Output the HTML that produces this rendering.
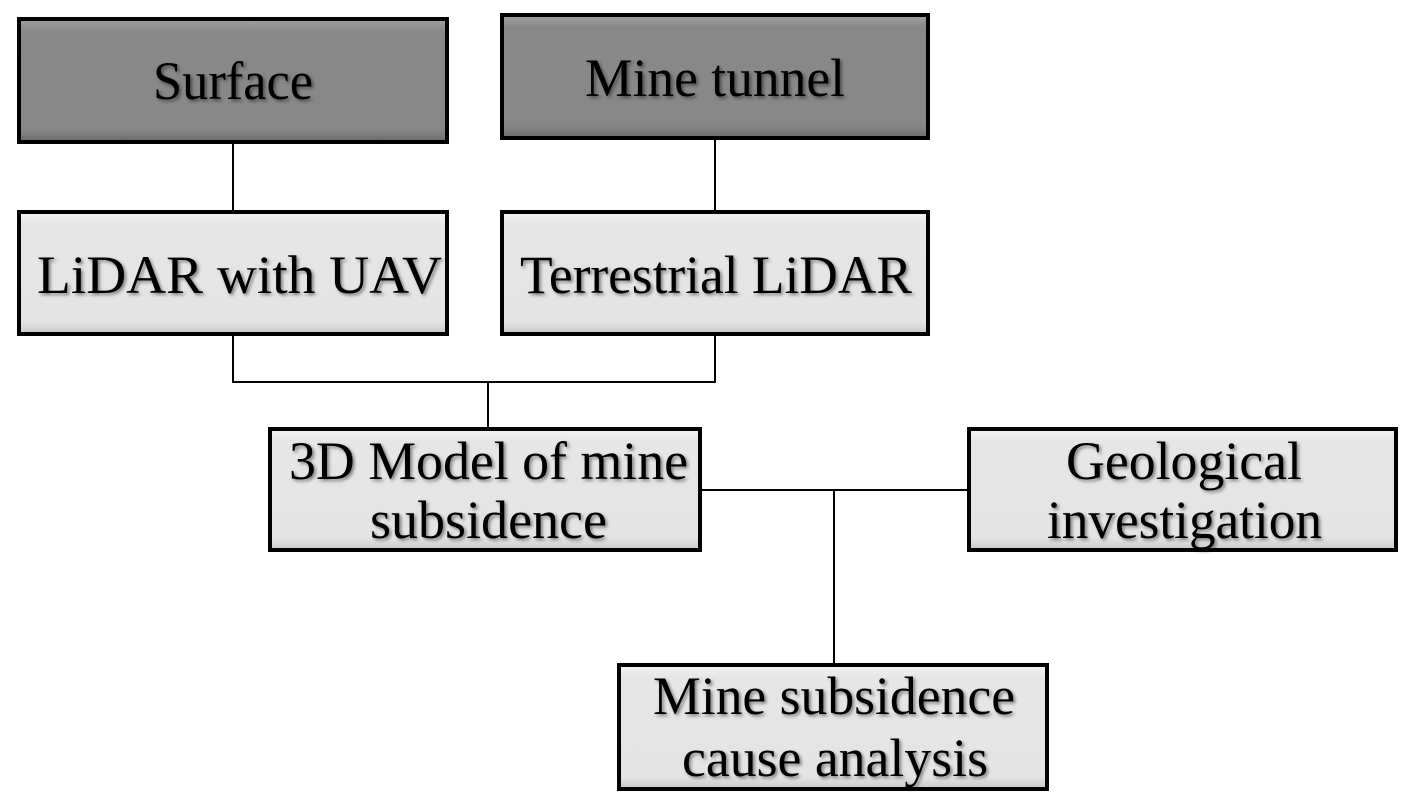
<!DOCTYPE html>
<html><head><style>html,body{margin:0;padding:0;background:#fff;}svg{display:block}</style></head>
<body>
<svg width="1419" height="812" viewBox="0 0 1419 812" xmlns="http://www.w3.org/2000/svg">
<defs>
<filter id="ts" x="-5%" y="-20%" width="110%" height="140%"><feDropShadow dx="2" dy="2" stdDeviation="1.5" flood-color="#000" flood-opacity="0.45"/></filter>
<linearGradient id="lg" x1="0" y1="0" x2="0" y2="1"><stop offset="0" stop-color="#f4f4f4"/><stop offset="0.1" stop-color="#e6e6e6"/><stop offset="0.9" stop-color="#e4e4e4"/><stop offset="1" stop-color="#c8c8c8"/></linearGradient>
<linearGradient id="dg" x1="0" y1="0" x2="0" y2="1"><stop offset="0" stop-color="#a0a0a0"/><stop offset="0.1" stop-color="#898989"/><stop offset="0.9" stop-color="#878787"/><stop offset="1" stop-color="#6a6a6a"/></linearGradient>
</defs>
<g stroke="#000" stroke-width="2" fill="none">
<line x1="233" y1="144" x2="233" y2="210"/>
<line x1="715" y1="140" x2="715" y2="210"/>
<polyline points="233,336 233,382 715,382 715,336"/>
<line x1="488" y1="382" x2="488" y2="427"/>
<line x1="702" y1="490" x2="967" y2="490"/>
<line x1="834" y1="490" x2="834" y2="663"/>
</g>
<g stroke="#000" stroke-width="4">
<rect x="19" y="19" width="428" height="123" fill="url(#dg)"/>
<rect x="502" y="15" width="426" height="123" fill="url(#dg)"/>
<rect x="19" y="212" width="428" height="122" fill="url(#lg)"/>
<rect x="502" y="212" width="426" height="122" fill="url(#lg)"/>
<rect x="270" y="429" width="430" height="121" fill="url(#lg)"/>
<rect x="969" y="429" width="427" height="121" fill="url(#lg)"/>
<rect x="619" y="665" width="428" height="124" fill="url(#lg)"/>
</g>
<g font-family="'Liberation Serif', serif" font-size="54" fill="#000" filter="url(#ts)">
<text x="153" y="99" textLength="160" lengthAdjust="spacingAndGlyphs">Surface</text>
<text x="585" y="96" textLength="260" lengthAdjust="spacingAndGlyphs">Mine tunnel</text>
<text x="37" y="293" textLength="405" lengthAdjust="spacingAndGlyphs">LiDAR with UAV</text>
<text x="520" y="293" textLength="392" lengthAdjust="spacingAndGlyphs">Terrestrial LiDAR</text>
<text x="289" y="479" textLength="399" lengthAdjust="spacingAndGlyphs">3D Model of mine</text>
<text x="370" y="538" textLength="237" lengthAdjust="spacingAndGlyphs">subsidence</text>
<text x="1066" y="479" textLength="236" lengthAdjust="spacingAndGlyphs">Geological</text>
<text x="1047" y="538" textLength="275" lengthAdjust="spacingAndGlyphs">investigation</text>
<text x="653" y="714" textLength="362" lengthAdjust="spacingAndGlyphs">Mine subsidence</text>
<text x="682" y="776" textLength="306" lengthAdjust="spacingAndGlyphs">cause analysis</text>
</g>
</svg>
</body></html>
